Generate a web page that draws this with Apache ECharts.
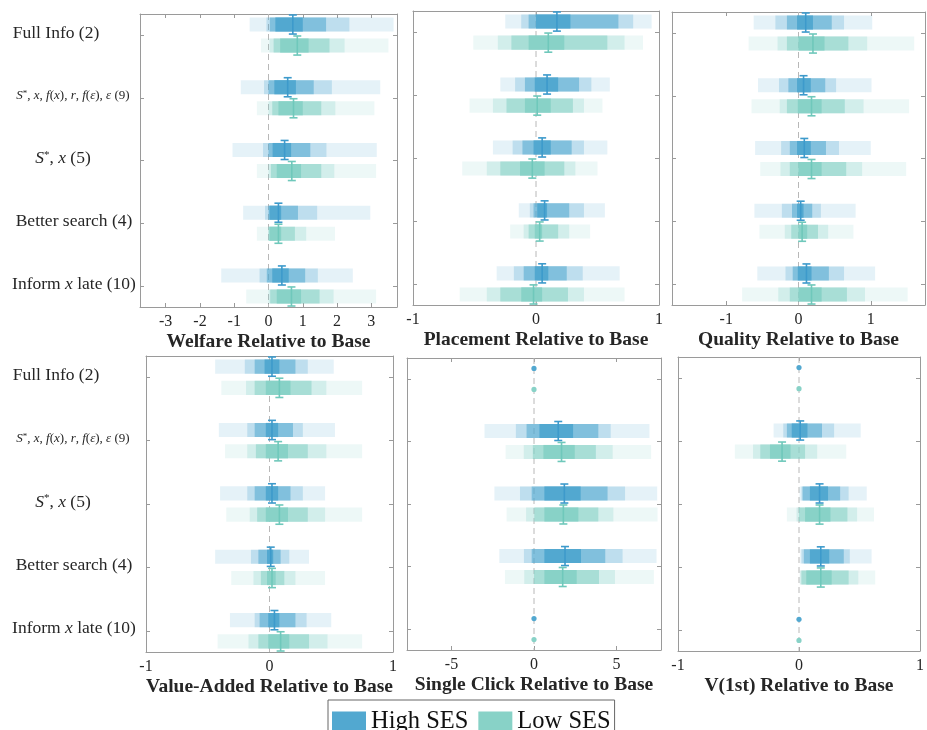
<!DOCTYPE html>
<html>
<head>
<meta charset="utf-8">
<script src="https://cdn.jsdelivr.net/npm/echarts@6/dist/echarts.min.js"></script>
<style>
  html, body { margin: 0; padding: 0; background: #fff; }
  #chart { width: 927px; height: 730px; }
</style>
</head>
<body>
<div id="chart"></div>
<script>
// Counterfactual outcomes relative to the base scenario, by SES group.
// Each row: [p5, p10, p25, p40, p60, p75, p90, p95, median] (nested bands + median marker).
// A single-value row is a point estimate only.

const rowNames = ['Full Info (2)', 'S*, x, f(x), r, f(ε), ε (9)', 'S*, x (5)', 'Better search (4)', 'Inform x late (10)'];

const welfareHigh = [
  [-0.55, -0.06, 0.04, 0.20, 1.00, 1.68, 2.36, 3.65, 0.71],
  [-0.81, -0.13, 0.00, 0.17, 0.80, 1.32, 1.85, 3.26, 0.56],
  [-1.05, -0.16, 0.00, 0.12, 0.66, 1.22, 1.69, 3.16, 0.47],
  [-0.74, -0.10, 0.00, 0.03, 0.37, 0.86, 1.42, 2.97, 0.29],
  [-1.38, -0.26, -0.05, 0.11, 0.59, 1.07, 1.44, 2.46, 0.39]
];
const welfareLow = [
  [-0.22, 0.03, 0.15, 0.34, 1.17, 1.78, 2.22, 3.50, 0.84],
  [-0.34, 0.00, 0.11, 0.29, 1.00, 1.54, 1.95, 3.09, 0.73],
  [-0.34, 0.00, 0.07, 0.24, 0.95, 1.54, 1.92, 3.14, 0.68],
  [-0.34, 0.00, 0.00, 0.03, 0.37, 0.77, 1.10, 1.94, 0.29],
  [-0.65, 0.00, 0.05, 0.24, 0.95, 1.49, 1.90, 3.14, 0.67]
];

const placementHigh = [
  [-0.25, -0.12, -0.06, 0.00, 0.28, 0.67, 0.79, 0.94, 0.17],
  [-0.29, -0.17, -0.09, -0.01, 0.18, 0.35, 0.45, 0.60, 0.09],
  [-0.35, -0.19, -0.11, -0.02, 0.12, 0.29, 0.39, 0.58, 0.05],
  [-0.14, -0.05, -0.02, 0.01, 0.09, 0.27, 0.39, 0.56, 0.07],
  [-0.32, -0.18, -0.10, -0.01, 0.10, 0.25, 0.38, 0.68, 0.05]
];
const placementLow = [
  [-0.51, -0.31, -0.20, -0.06, 0.23, 0.58, 0.72, 0.87, 0.10],
  [-0.54, -0.35, -0.24, -0.09, 0.12, 0.30, 0.39, 0.54, 0.01],
  [-0.60, -0.40, -0.29, -0.13, 0.07, 0.23, 0.32, 0.50, -0.03],
  [-0.21, -0.10, -0.06, -0.01, 0.05, 0.18, 0.27, 0.44, 0.03],
  [-0.62, -0.40, -0.29, -0.12, 0.05, 0.26, 0.39, 0.72, -0.02]
];

const qualityHigh = [
  [-0.62, -0.32, -0.16, -0.02, 0.20, 0.46, 0.63, 1.02, 0.10],
  [-0.56, -0.27, -0.14, -0.02, 0.17, 0.37, 0.52, 1.01, 0.07],
  [-0.60, -0.24, -0.12, -0.02, 0.17, 0.38, 0.56, 1.00, 0.08],
  [-0.61, -0.23, -0.09, -0.02, 0.07, 0.19, 0.31, 0.79, 0.03],
  [-0.57, -0.18, -0.08, -0.01, 0.18, 0.42, 0.63, 1.06, 0.11]
];
const qualityLow = [
  [-0.69, -0.29, -0.16, 0.00, 0.36, 0.69, 0.95, 1.60, 0.20],
  [-0.65, -0.26, -0.16, -0.01, 0.32, 0.64, 0.90, 1.53, 0.18],
  [-0.53, -0.25, -0.12, 0.00, 0.32, 0.66, 0.88, 1.49, 0.18],
  [-0.54, -0.19, -0.10, 0.00, 0.12, 0.27, 0.41, 0.76, 0.05],
  [-0.78, -0.28, -0.12, 0.00, 0.32, 0.67, 0.92, 1.51, 0.18]
];

const valueAddedHigh = [
  [-0.44, -0.20, -0.12, -0.04, 0.08, 0.21, 0.31, 0.52, 0.02],
  [-0.41, -0.18, -0.12, -0.03, 0.07, 0.19, 0.27, 0.53, 0.02],
  [-0.40, -0.18, -0.12, -0.03, 0.07, 0.17, 0.27, 0.45, 0.02],
  [-0.44, -0.15, -0.09, -0.02, 0.03, 0.09, 0.16, 0.32, 0.01],
  [-0.32, -0.12, -0.08, -0.01, 0.08, 0.21, 0.30, 0.50, 0.04]
];
const valueAddedLow = [
  [-0.39, -0.19, -0.12, -0.03, 0.17, 0.34, 0.46, 0.75, 0.08],
  [-0.36, -0.18, -0.11, -0.03, 0.15, 0.31, 0.46, 0.75, 0.07],
  [-0.35, -0.16, -0.10, -0.03, 0.15, 0.31, 0.45, 0.75, 0.08],
  [-0.31, -0.13, -0.07, -0.02, 0.05, 0.12, 0.21, 0.45, 0.02],
  [-0.42, -0.17, -0.09, -0.01, 0.16, 0.32, 0.47, 0.75, 0.09]
];

const singleClickHigh = [
  [0],
  [-3.00, -1.10, -0.45, 0.33, 2.37, 3.90, 4.65, 7.00, 1.47],
  [-2.40, -0.85, -0.14, 0.63, 2.83, 4.46, 5.52, 7.47, 1.84],
  [-2.10, -0.61, -0.14, 0.63, 2.85, 4.32, 5.37, 7.43, 1.88],
  [0]
];
const singleClickLow = [
  [0],
  [-1.72, -0.62, -0.07, 0.57, 2.47, 3.75, 4.77, 7.10, 1.67],
  [-1.66, -0.48, 0.02, 0.63, 2.69, 3.90, 4.81, 7.49, 1.78],
  [-1.76, -0.59, 0.00, 0.63, 2.59, 3.94, 4.91, 7.27, 1.74],
  [0]
];

const v1stHigh = [
  [0],
  [-0.21, -0.13, -0.10, -0.06, 0.07, 0.19, 0.29, 0.51, 0.01],
  [0.005, 0.02, 0.03, 0.09, 0.24, 0.34, 0.41, 0.56, 0.17],
  [0.01, 0.02, 0.04, 0.09, 0.25, 0.37, 0.42, 0.60, 0.18],
  [0]
];
const v1stLow = [
  [0],
  [-0.53, -0.38, -0.32, -0.24, -0.07, 0.05, 0.15, 0.39, -0.14],
  [-0.10, -0.02, 0.00, 0.05, 0.26, 0.40, 0.48, 0.62, 0.17],
  [0.005, 0.01, 0.02, 0.06, 0.27, 0.41, 0.49, 0.63, 0.18],
  [0]
];

const welfareTicks = [-3, -2, -1, 0, 1, 2, 3];
const unitTicks = [-1, 0, 1];
const clickTicks = [-5, 0, 5];
const seriesNames = ['High SES', 'Low SES'];

// ---------------------------------------------------------------------------
const FONT = 'Liberation Serif';
const TXT = '#262626';
const BOX = '#9a9a9a';
const BLUE = [82, 168, 208];
const TEAL = [136, 210, 199];
const BLUE_WHISKER = '#3d9acb';
const TEAL_WHISKER = '#6fc8bb';
const BAND_ALPHA = [0.15, 0.26, 0.57, 1];
const Y_MIN = -0.335, Y_MAX = 4.335;
const ROW_OFFSET = 0.1675, BAR_HALF = 0.112, WHISKER_HALF = 0.152;

const panels = [
  { title: 'Welfare Relative to Base', high: welfareHigh, low: welfareLow, xMin: -3.75, xMax: 3.75, ticks: welfareTicks,
    grid: { left: 140, top: 14, width: 257, height: 293 }, rowLabels: true, labelMargin: 66 },
  { title: 'Placement Relative to Base', high: placementHigh, low: placementLow, xMin: -1, xMax: 1, ticks: unitTicks,
    grid: { left: 413, top: 11, width: 246, height: 294 } },
  { title: 'Quality Relative to Base', high: qualityHigh, low: qualityLow, xMin: -1.75, xMax: 1.75, ticks: unitTicks,
    grid: { left: 672, top: 12, width: 253, height: 293 } },
  { title: 'Value-Added Relative to Base', high: valueAddedHigh, low: valueAddedLow, xMin: -1, xMax: 1, ticks: unitTicks,
    grid: { left: 146, top: 356, width: 247, height: 296 }, rowLabels: true, labelMargin: 72 },
  { title: 'Single Click Relative to Base', high: singleClickHigh, low: singleClickLow, xMin: -7.7, xMax: 7.7, ticks: clickTicks,
    grid: { left: 407, top: 358, width: 254, height: 292 } },
  { title: 'V(1st) Relative to Base', high: v1stHigh, low: v1stLow, xMin: -1, xMax: 1, ticks: unitTicks,
    grid: { left: 678, top: 357, width: 247, height: 294 } }
];

const rgba = (c, a) => `rgba(${c[0]},${c[1]},${c[2]},${a})`;

// Row labels with math-italic symbols, as rich text.
const labelRich = {
  t0: { fontFamily: FONT, fontSize: 17.5, color: TXT, padding: [0, 36, 0, 0] },
  t: { fontFamily: FONT, fontSize: 17.5, color: TXT },
  t2: { fontFamily: FONT, fontSize: 17.5, color: TXT, padding: [0, 22, 0, 0] },
  bi: { fontFamily: FONT, fontSize: 17.5, color: TXT, fontStyle: 'italic' },
  bsup: { fontFamily: FONT, fontSize: 11, color: TXT, verticalAlign: 'top' },
  m: { fontFamily: FONT, fontSize: 13, color: TXT },
  mi: { fontFamily: FONT, fontSize: 13, color: TXT, fontStyle: 'italic' },
  msup: { fontFamily: FONT, fontSize: 9, color: TXT, verticalAlign: 'top' },
  m9: { fontFamily: FONT, fontSize: 13, color: TXT, padding: [0, 2, 0, 0] }
};
const richRowLabels = [
  '{t0|Full Info (2)}',
  '{mi|S}{msup|*}{m|, }{mi|x}{m|, }{mi|f}{m|(}{mi|x}{m|), }{mi|r}{m|, }{mi|f}{m|(}{mi|ε}{m|), }{mi|ε}{m9| (9)}',
  '{bi|S}{bsup|*}{t|, }{bi|x}{t2| (5)}',
  '{t|Better search (4)}',
  '{t|Inform }{bi|x}{t| late (10)}'
];

function makeRenderer(rgb, side, whiskerColor) {
  return function (params, api) {
    const cat = api.value(0);
    const unit = Math.abs(api.size([0, 1])[1]);
    const cy = api.coord([0, cat])[1] + side * ROW_OFFSET * unit;
    const children = [];
    const med = api.value(9);
    const xm = api.coord([med, cat])[0];
    if (isNaN(api.value(1))) {
      children.push({ type: 'circle', shape: { cx: xm, cy: cy, r: 2.6 }, style: { fill: rgba(rgb, 1) } });
      return { type: 'group', children };
    }
    const h = BAR_HALF * unit;
    [[1, 8], [2, 7], [3, 6], [4, 5]].forEach(([a, b], k) => {
      const x0 = api.coord([api.value(a), cat])[0];
      const x1 = api.coord([api.value(b), cat])[0];
      children.push({
        type: 'rect',
        shape: { x: x0, y: cy - h, width: x1 - x0, height: 2 * h },
        style: { fill: rgba(rgb, BAND_ALPHA[k]) }
      });
    });
    const wh = WHISKER_HALF * unit;
    const capW = 4;
    const ws = { stroke: whiskerColor, lineWidth: 1.6 };
    children.push({ type: 'line', shape: { x1: xm, y1: cy - wh, x2: xm, y2: cy + wh }, style: ws });
    children.push({ type: 'line', shape: { x1: xm - capW, y1: cy - wh, x2: xm + capW, y2: cy - wh }, style: ws });
    children.push({ type: 'line', shape: { x1: xm - capW, y1: cy + wh, x2: xm + capW, y2: cy + wh }, style: ws });
    return { type: 'group', children };
  };
}

function toRows(rows) {
  return rows.map((r, i) => r.length === 1
    ? [i, null, null, null, null, null, null, null, null, r[0]]
    : [i].concat(r));
}

const grids = [], xAxes = [], yAxes = [], series = [];
const dims = ['row', 'l1', 'l2', 'l3', 'l4', 'r4', 'r3', 'r2', 'r1', 'med'];

panels.forEach((p, gi) => {
  grids.push(Object.assign({ show: false, containLabel: false }, p.grid));

  const xCommon = {
    type: 'value', gridIndex: gi, min: p.xMin, max: p.xMax,
    splitLine: { show: false },
    axisLine: { show: true, onZero: false, lineStyle: { color: BOX, width: 1 } },
    axisTick: { show: true, inside: true, length: 4, customValues: p.ticks, lineStyle: { color: BOX } }
  };
  xAxes.push(Object.assign({}, xCommon, {
    position: 'bottom',
    axisLabel: { show: true, customValues: p.ticks, margin: 7, fontFamily: FONT, fontSize: 16, color: TXT },
    name: p.title, nameLocation: 'middle', nameGap: 25,
    nameTextStyle: { fontFamily: FONT, fontWeight: 'bold', fontSize: 19.5, color: TXT }
  }));
  xAxes.push(Object.assign({}, xCommon, { position: 'top', axisLabel: { show: false } }));

  const yCommon = {
    type: 'value', gridIndex: gi, inverse: true, min: Y_MIN, max: Y_MAX,
    splitLine: { show: false },
    axisLine: { show: true, onZero: false, lineStyle: { color: BOX, width: 1 } },
    axisTick: { show: true, inside: true, length: 4, customValues: [0, 1, 2, 3, 4], lineStyle: { color: BOX } }
  };
  yAxes.push(Object.assign({}, yCommon, {
    position: 'left',
    axisLabel: p.rowLabels ? {
      show: true, customValues: [0, 1, 2, 3, 4], align: 'center', margin: p.labelMargin,
      padding: [0, 0, 4, 0],
      formatter: v => richRowLabels[Math.round(v)], rich: labelRich
    } : { show: false }
  }));
  yAxes.push(Object.assign({}, yCommon, { position: 'right', axisLabel: { show: false } }));

  const xi = gi * 2, yi = gi * 2;
  series.push({
    type: 'line', xAxisIndex: xi, yAxisIndex: yi, silent: true, symbol: 'none', z: 1,
    data: [[0, Y_MIN], [0, Y_MAX]],
    lineStyle: { color: '#b8b8b8', width: 1, type: [6, 4] }
  });
  series.push({
    type: 'custom', name: seriesNames[0], xAxisIndex: xi, yAxisIndex: yi, z: 2, silent: true,
    itemStyle: { color: rgba(BLUE, 1) },
    dimensions: dims, encode: { x: [1, 8, 9], y: 0 },
    renderItem: makeRenderer(BLUE, -1, BLUE_WHISKER),
    data: toRows(p.high)
  });
  series.push({
    type: 'custom', name: seriesNames[1], xAxisIndex: xi, yAxisIndex: yi, z: 2, silent: true,
    itemStyle: { color: rgba(TEAL, 1) },
    dimensions: dims, encode: { x: [1, 8, 9], y: 0 },
    renderItem: makeRenderer(TEAL, 1, TEAL_WHISKER),
    data: toRows(p.low)
  });
});

const chart = echarts.init(document.getElementById('chart'), null, { renderer: 'canvas' });
chart.setOption({
  backgroundColor: '#fff',
  animation: false,
  grid: grids,
  xAxis: xAxes,
  yAxis: yAxes,
  legend: {
    data: seriesNames, left: 328, top: 700, orient: 'horizontal',
    icon: 'rect', itemWidth: 34, itemHeight: 20, itemGap: 10,
    padding: [9, 4, 9, 4], borderColor: '#666', borderWidth: 1,
    selectedMode: false,
    textStyle: { fontFamily: FONT, fontSize: 24.5, color: '#111' }
  },
  series: series
});
</script>
</body>
</html>
